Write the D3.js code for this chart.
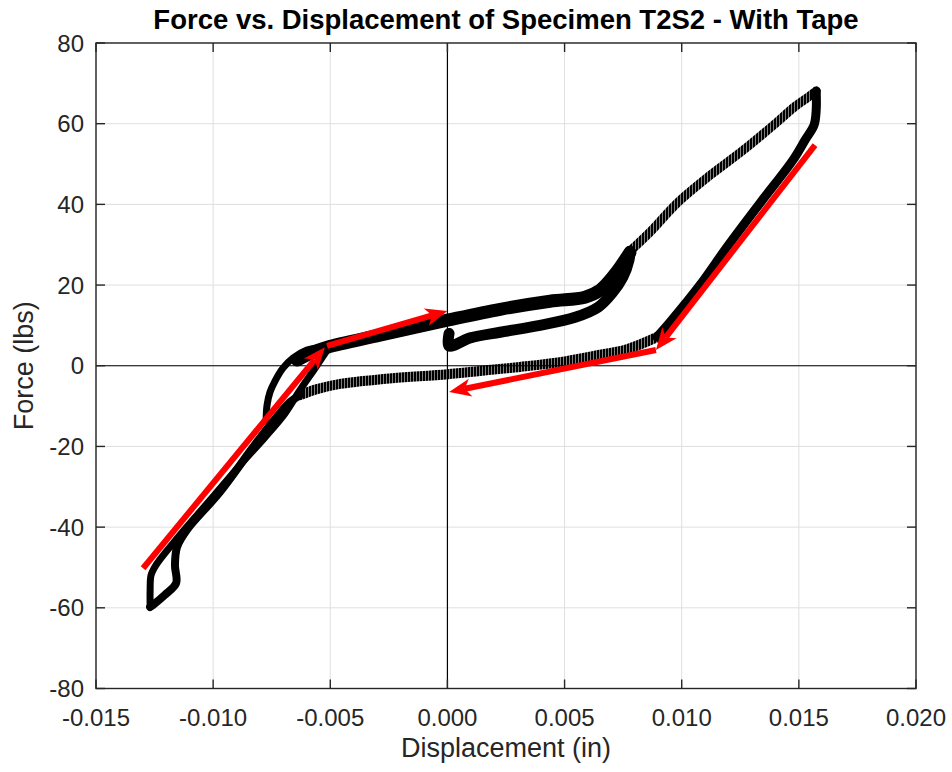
<!DOCTYPE html>
<html>
<head>
<meta charset="utf-8">
<script src="https://cdn.jsdelivr.net/npm/d3@7"></script>
<style>
  body { margin: 0; background: #fff; }
  text { font-family: Arial, "Liberation Sans", sans-serif; fill: #262626; }
</style>
</head>
<body>
<svg id="chart" width="952" height="772"></svg>
<script>
// axis ticks
const xTicks = [-0.015, -0.010, -0.005, 0.000, 0.005, 0.010, 0.015, 0.020];
const xTickLabels = ["-0.015", "-0.010", "-0.005", "0.000", "0.005", "0.010", "0.015", "0.020"];
const yTicks = [-80, -60, -40, -20, 0, 20, 40, 60, 80];
const yTickLabels = ["-80", "-60", "-40", "-20", "0", "20", "40", "60", "80"];

// measured branches, [displacement (in), force (lbs)]
const smallLoad = [[0.00007, 8.0], [0.00007, 4.9], [0.00097, 6.9], [0.00225, 8.3], [0.00395, 10.0],
  [0.00545, 12.0], [0.00643, 14.5], [0.00703, 18.0], [0.00749, 22.0], [0.00775, 26.2], [0.00779, 28.4]];
const upperBand = [[-0.00641, 1.4], [-0.00573, 3.4], [-0.00513, 4.6], [-0.00288, 7.6], [0.00000, 11.3],
  [0.00225, 14.0], [0.00438, 16.0], [0.00587, 17.0], [0.00651, 18.7], [0.00715, 22.7], [0.00779, 28.1]];
const bigUpRight = [[0.00779, 28.4], [0.00864, 33.1], [0.00980, 40.3], [0.01121, 47.2], [0.01262, 53.4],
  [0.01407, 60.4], [0.01484, 64.3], [0.01540, 66.6], [0.01574, 68.1]];
const bigDownRight = [[0.01574, 68.1], [0.01574, 63.4], [0.01565, 59.7], [0.01527, 56.0], [0.01475, 51.0],
  [0.01334, 40.3], [0.01193, 29.4], [0.01078, 20.0], [0.00950, 10.8], [0.00894, 7.1]];
const bigDownMid = [[0.00894, 7.1], [0.00766, 4.1], [0.00621, 2.4], [0.00480, 0.9], [0.00310, -0.3],
  [0.00139, -1.3], [0.00000, -2.1], [-0.00275, -3.3], [-0.00458, -4.5], [-0.00557, -5.8], [-0.00629, -7.3]];
const bigDownLeft = [[-0.00629, -7.3], [-0.00672, -9.0], [-0.00757, -14.7],
  [-0.00830, -20.2], [-0.00971, -31.3], [-0.01112, -40.7], [-0.01154, -44.9], [-0.01163, -49.4],
  [-0.01158, -53.9], [-0.01206, -56.8], [-0.01257, -59.3], [-0.01269, -59.8]];
const bigReload = [[-0.01269, -59.8], [-0.01269, -55.7], [-0.01265, -51.9], [-0.01244, -49.4],
  [-0.01141, -41.9], [-0.01013, -33.3], [-0.00885, -24.6], [-0.00778, -17.7], [-0.00693, -11.8],
  [-0.00629, -6.0], [-0.00565, -0.6], [-0.00513, 3.9]];
const smallReload = [[-0.00774, -13.5], [-0.00770, -9.8], [-0.00757, -6.5], [-0.00736, -3.8],
  [-0.00702, -0.6], [-0.00659, 1.9], [-0.00600, 3.9], [-0.00536, 4.6], [-0.00458, 5.9]];

// red annotation arrows: start and tip
const arrowFrom = [[-0.01299, -50.2], [-0.00514, 4.9], [0.01569, 54.7], [0.00890, 3.9]];
const arrowTo = [[-0.00523, 4.6], [0.00000, 13.6], [0.00890, 3.9], [0.00007, -6.5]];

const svg = d3.select("#chart");
const m = {top: 43, right: 36, bottom: 83.5, left: 96};
const W = 952 - m.left - m.right, H = 772 - m.top - m.bottom;

const x = d3.scaleLinear().domain([-0.015, 0.020]).range([0, W]);
const y = d3.scaleLinear().domain([-80, 80]).range([H, 0]);

// hatch used to give the noisy traces their jagged look
const defs = svg.append("defs");
defs.append("pattern").attr("id", "zig")
    .attr("patternUnits", "userSpaceOnUse")
    .attr("width", 3).attr("height", 4)
  .append("rect").attr("width", 2.5).attr("height", 4).attr("fill", "#000");

const g = svg.append("g").attr("transform", `translate(${m.left},${m.top})`);

// grid
g.append("g").selectAll("line").data(xTicks).join("line")
    .attr("x1", d => x(d)).attr("x2", d => x(d))
    .attr("y1", 0).attr("y2", H)
    .attr("stroke", "#dfdfdf").attr("stroke-width", 1);
g.append("g").selectAll("line").data(yTicks).join("line")
    .attr("y1", d => y(d)).attr("y2", d => y(d))
    .attr("x1", 0).attr("x2", W)
    .attr("stroke", "#dfdfdf").attr("stroke-width", 1);

// zero lines
g.append("line").attr("x1", x(0)).attr("x2", x(0)).attr("y1", 0).attr("y2", H)
    .attr("stroke", "#000").attr("stroke-width", 1.2);
g.append("line").attr("x1", 0).attr("x2", W).attr("y1", y(0)).attr("y2", y(0))
    .attr("stroke", "#000").attr("stroke-width", 1.2);

// data
const line = d3.line().x(d => x(d[0])).y(d => y(d[1])).curve(d3.curveCatmullRom.alpha(0.5));
const branches = [
  {pts: bigDownMid, w: 10, s: "url(#zig)"},
  {pts: bigDownLeft, w: 8, s: "#000"},
  {pts: bigReload, w: 7, s: "#000"},
  {pts: smallReload, w: 7, s: "#000"},
  {pts: bigUpRight, w: 9, s: "url(#zig)"},
  {pts: bigDownRight, w: 9, s: "#000"},
  {pts: upperBand, w: 13, s: "#000"},
  {pts: smallLoad, w: 11, s: "#000"}
];
g.append("g").selectAll("path").data(branches).join("path")
    .attr("d", d => line(d.pts))
    .attr("fill", "none")
    .attr("stroke", d => d.s)
    .attr("stroke-width", d => d.w)
    .attr("stroke-linejoin", "round")
    .attr("stroke-linecap", "round");

// arrows
const arrows = g.append("g");
arrowFrom.forEach((s, i) => {
  const x0 = x(s[0]), y0 = y(s[1]);
  const x1 = x(arrowTo[i][0]), y1 = y(arrowTo[i][1]);
  const a = Math.atan2(y1 - y0, x1 - x0);
  const len = 22, half = 9, notch = 16;
  const ux = Math.cos(a), uy = Math.sin(a);
  const bx = x1 - ux * len, by = y1 - uy * len;
  const nx = x1 - ux * notch, ny = y1 - uy * notch;
  arrows.append("line")
      .attr("x1", x0).attr("y1", y0).attr("x2", nx).attr("y2", ny)
      .attr("stroke", "#ff0000").attr("stroke-width", 6);
  arrows.append("path")
      .attr("d", `M${x1},${y1}L${bx - uy * half},${by + ux * half}L${nx},${ny}L${bx + uy * half},${by - ux * half}Z`)
      .attr("fill", "#ff0000");
});

// box and inward ticks
const ink = "#262626", tl = 9;
g.append("rect").attr("width", W).attr("height", H)
    .attr("fill", "none").attr("stroke", ink).attr("stroke-width", 1.4);
const tk = g.append("g").attr("stroke", ink).attr("stroke-width", 1.4);
xTicks.forEach(t => {
  tk.append("line").attr("x1", x(t)).attr("x2", x(t)).attr("y1", H).attr("y2", H - tl);
  tk.append("line").attr("x1", x(t)).attr("x2", x(t)).attr("y1", 0).attr("y2", tl);
});
yTicks.forEach(t => {
  tk.append("line").attr("y1", y(t)).attr("y2", y(t)).attr("x1", 0).attr("x2", tl);
  tk.append("line").attr("y1", y(t)).attr("y2", y(t)).attr("x1", W).attr("x2", W - tl);
});

// tick labels
g.append("g").selectAll("text").data(xTicks).join("text")
    .attr("x", d => x(d)).attr("y", H + 37)
    .attr("text-anchor", "middle")
    .style("font-size", "24px")
    .text((d, i) => xTickLabels[i]);
g.append("g").selectAll("text").data(yTicks).join("text")
    .attr("x", -12).attr("y", d => y(d) + 8.5)
    .attr("text-anchor", "end")
    .style("font-size", "24px")
    .text((d, i) => yTickLabels[i]);

// labels
svg.append("text")
    .attr("x", m.left + W / 2).attr("y", 757)
    .attr("text-anchor", "middle")
    .style("font-size", "27px")
    .text("Displacement (in)");
svg.append("text")
    .attr("transform", `translate(33,${m.top + H / 2}) rotate(-90)`)
    .attr("text-anchor", "middle")
    .style("font-size", "27px")
    .text("Force (lbs)");
svg.append("text")
    .attr("x", m.left + W / 2).attr("y", 29)
    .attr("text-anchor", "middle")
    .style("font-size", "27.5px")
    .style("font-weight", "bold")
    .style("fill", "#000")
    .text("Force vs. Displacement of Specimen T2S2 - With Tape");
</script>
</body>
</html>
